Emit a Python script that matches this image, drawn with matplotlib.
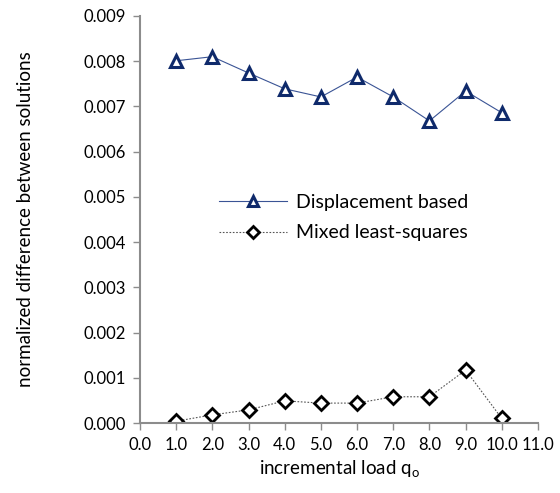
import matplotlib
matplotlib.use("Agg")
import matplotlib.pyplot as plt
import numpy as np

plt.rcParams['font.family'] = ['Lato', 'DejaVu Sans']

x = [1, 2, 3, 4, 5, 6, 7, 8, 9, 10]
disp = [0.00801, 0.00810, 0.00774, 0.00739, 0.00721, 0.00765, 0.00721, 0.00668, 0.00734, 0.00686]
mixed = [0.00004, 0.00018, 0.00029, 0.00049, 0.00044, 0.00044, 0.00058, 0.00058, 0.00117, 0.00010]

fig = plt.figure(figsize=(5.6, 4.93), dpi=100)
ax = fig.add_axes([140/560, 1-423/493, 398/560, 407/493])

ax.plot(x, disp, color='#3a5495', lw=0.8, marker='^', ms=9, mfc='white',
        mec='#0f2a6b', mew=2.2, label='Displacement based')
ax.plot(x, mixed, color='#555555', lw=0.8, ls=(0, (1.5, 1.5)), marker='D', ms=7, mfc='white',
        mec='black', mew=2.0, label='Mixed least-squares')

ax.set_xlim(0, 11)
ax.set_ylim(0, 0.009)
ax.set_xticks(np.arange(0, 11.01, 1.0))
ax.set_xticklabels([f"{v:.1f}" for v in np.arange(0, 11.01, 1.0)])
ax.set_yticks(np.arange(0, 0.00901, 0.001))
ax.set_yticklabels([f"{v:.3f}" for v in np.arange(0, 0.00901, 0.001)])

for s in ['top', 'right']:
    ax.spines[s].set_visible(False)
for s in ['left', 'bottom']:
    ax.spines[s].set_color('#8c8c8c')
    ax.spines[s].set_linewidth(1.5)
ax.tick_params(axis='both', colors='#8c8c8c', labelcolor='black', labelsize=12, length=5, width=1)
ax.tick_params(axis='x', pad=5)
ax.tick_params(axis='y', pad=5)

ax.set_xlabel('incremental load q$_\\mathregular{o}$', fontsize=13.5, labelpad=4)
ax.set_ylabel('normalized difference between solutions', fontsize=13.5, labelpad=36)

leg = ax.legend(loc='upper left', bbox_to_anchor=(0.155, 0.605), frameon=False, fontsize=14,
                handlelength=3.5, handletextpad=0.45, labelspacing=0.68, markerscale=0.85)

fig.savefig('out.png', dpi=100)
